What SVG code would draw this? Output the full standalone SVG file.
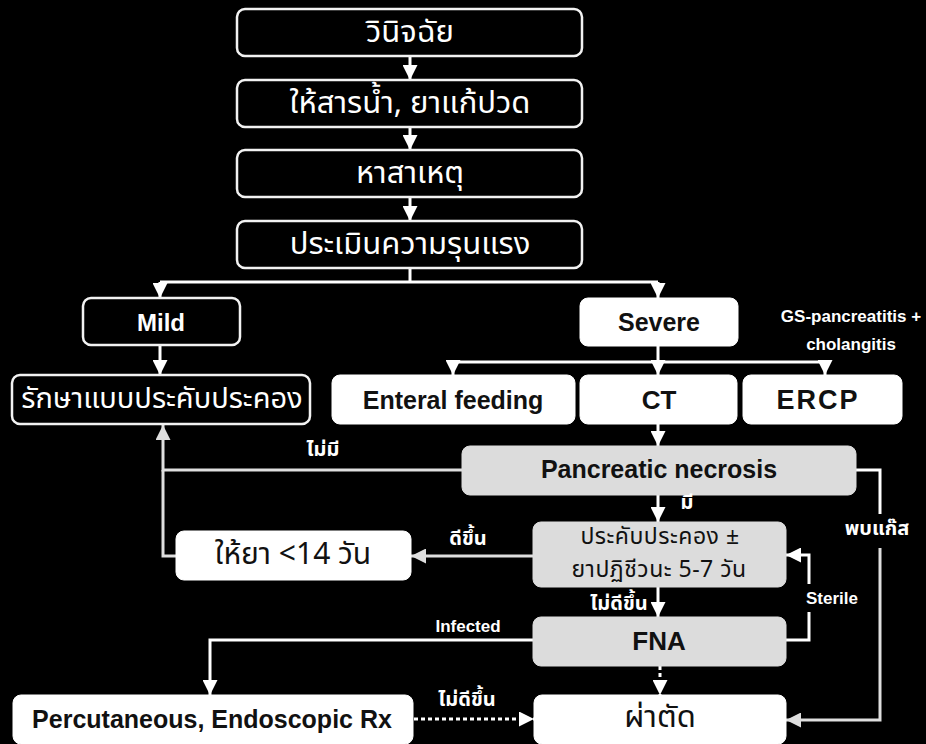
<svg xmlns="http://www.w3.org/2000/svg" width="926" height="744" viewBox="0 0 926 744">
<defs>
<style>
.bk{fill:#000;stroke:#f2f2f2;stroke-width:2.5}
.wh{fill:#fff;stroke:#fff;stroke-width:1}
.gr{fill:#dcdcdc;stroke:#dcdcdc;stroke-width:1}
.th{font-family:"Noto Sans Thai","Noto Sans Thai Looped","Noto Sans",sans-serif;text-anchor:middle;dominant-baseline:central}
.lb{font-weight:bold;font-size:20px}
.en{font-family:"Liberation Sans",Arial,sans-serif;font-weight:bold;text-anchor:middle;dominant-baseline:central}
.tw{fill:#fff}
.tb{fill:#111}
.ln{fill:none;stroke:#fff;stroke-width:3}
.lg{fill:none;stroke:#dedede;stroke-width:3}
.dt{fill:none;stroke:#fff;stroke-width:3;stroke-dasharray:4 3}
</style>
<marker id="ah" viewBox="0 0 10 10" refX="10" refY="5" markerWidth="5" markerHeight="5" orient="auto" markerUnits="strokeWidth">
<path d="M0,0 L10,5 L0,10 z" fill="#fff"/>
</marker>
<marker id="ahg" viewBox="0 0 10 10" refX="10" refY="5" markerWidth="5" markerHeight="5" orient="auto" markerUnits="strokeWidth">
<path d="M0,0 L10,5 L0,10 z" fill="#dedede"/>
</marker>
</defs>
<rect x="0" y="0" width="926" height="744" fill="#000"/>

<g id="connectors">
<path class="ln" d="M410,56 V80" marker-end="url(#ah)"/>
<path class="ln" d="M410,127 V150" marker-end="url(#ah)"/>
<path class="ln" d="M410,197 V221" marker-end="url(#ah)"/>
<path class="ln" d="M410,268 V282"/>
<path class="ln" d="M160,282 H658"/>
<path class="ln" d="M160,282 V298" marker-end="url(#ah)"/>
<path class="ln" d="M658,282 V298" marker-end="url(#ah)"/>
<path class="ln" d="M160,345 V375" marker-end="url(#ah)"/>
<path class="ln" d="M658,346 V362"/>
<path class="ln" d="M453,362 H825"/>
<path class="ln" d="M453,362 V375" marker-end="url(#ah)"/>
<path class="ln" d="M658,362 V375" marker-end="url(#ah)"/>
<path class="ln" d="M825,362 V375" marker-end="url(#ah)"/>
<path class="ln" d="M658,424 V446" marker-end="url(#ah)"/>
<path class="lg" d="M462,470 H163 V425" marker-end="url(#ahg)"/>
<path class="lg" d="M176,556 H163 V470"/>
<path class="lg" d="M533,556 H411" marker-end="url(#ahg)"/>
<path class="ln" d="M658,495 V522" marker-end="url(#ah)"/>
<path class="ln" d="M658,587 V617" marker-end="url(#ah)"/>
<path class="ln" d="M786,640 H809 V612"/>
<path class="ln" d="M809,584 V555 H786" marker-end="url(#ah)"/>
<path class="ln" d="M856,470 H880 V514"/>
<path class="lg" d="M880,548 V720 H786" marker-end="url(#ahg)"/>
<path class="ln" d="M533,640 H210 V695" marker-end="url(#ah)"/>
<path class="dt" d="M414,719 H534" marker-end="url(#ah)"/>
<path class="dt" d="M660,666 V695" marker-end="url(#ah)"/>
</g>

<g id="n-diagnose"><rect class="bk" x="237" y="9" width="345" height="47" rx="8"/><text class="th tw" x="410" y="32" font-size="31">วินิจฉัย</text></g>
<g id="n-fluid"><rect class="bk" x="237" y="80" width="345" height="47" rx="8"/><text class="th tw" x="410" y="103" font-size="31">ให้สารน้ำ, ยาแก้ปวด</text></g>
<g id="n-cause"><rect class="bk" x="237" y="150" width="345" height="47" rx="8"/><text class="th tw" x="410" y="173" font-size="31">หาสาเหตุ</text></g>
<g id="n-severity"><rect class="bk" x="237" y="221" width="345" height="47" rx="8"/><text class="th tw" x="410" y="244" font-size="31">ประเมินความรุนแรง</text></g>

<g id="n-mild"><rect class="bk" x="83" y="298" width="157" height="47" rx="8"/><text class="en tw" x="161" y="322" font-size="24">Mild</text></g>
<g id="n-severe"><rect class="wh" x="580" y="298" width="158" height="48" rx="8"/><text class="en tb" x="659" y="322" font-size="25">Severe</text></g>
<g id="n-gs"><text class="en tw" x="851" y="316" font-size="17">GS-pancreatitis +</text><text class="en tw" x="851" y="344" font-size="17">cholangitis</text></g>

<g id="n-supportive"><rect class="bk" x="12" y="375" width="298" height="49" rx="8"/><text class="th tw" x="162" y="399" font-size="29">รักษาแบบประคับประคอง</text></g>
<g id="n-enteral"><rect class="wh" x="332" y="375" width="243" height="49" rx="8"/><text class="en tb" x="453" y="400" font-size="25">Enteral feeding</text></g>
<g id="n-ct"><rect class="wh" x="580" y="375" width="157" height="49" rx="8"/><text class="en tb" x="659" y="400" font-size="26">CT</text></g>
<g id="n-ercp"><rect class="wh" x="743" y="375" width="159" height="49" rx="8"/><text class="en tb" x="818" y="400" font-size="27" letter-spacing="2">ERCP</text></g>

<g id="n-necrosis"><rect class="gr" x="462" y="446" width="394" height="49" rx="8"/><text class="en tb" x="659" y="469" font-size="25">Pancreatic necrosis</text></g>
<g id="n-conservative"><rect class="gr" x="533" y="522" width="253" height="65" rx="8"/><text class="th tb" x="660" y="537" font-size="23" letter-spacing="0.5">ประคับประคอง ±</text><text class="th tb" x="659" y="570" font-size="23" letter-spacing="0.5">ยาปฏิชีวนะ 5-7 วัน</text></g>
<g id="n-drug"><rect class="wh" x="176" y="531" width="235" height="49" rx="8"/><text class="th tb" x="293" y="555" font-size="30">ให้ยา &lt;14 วัน</text></g>
<g id="n-fna"><rect class="gr" x="533" y="617" width="253" height="49" rx="8"/><text class="en tb" x="659" y="641" font-size="26">FNA</text></g>
<g id="n-perc"><rect class="wh" x="13" y="695" width="400" height="49" rx="8"/><text class="en tb" x="212" y="719" font-size="25">Percutaneous, Endoscopic Rx</text></g>
<g id="n-surgery"><rect class="wh" x="534" y="695" width="252" height="49" rx="8"/><text class="th tb" x="660" y="717" font-size="31">ผ่าตัด</text></g>

<g id="labels">
<text class="th tw lb" x="323" y="450">ไม่มี</text>
<text class="th tw lb" x="687" y="503">มี</text>
<text class="th tw lb" x="619" y="604" font-size="18">ไม่ดีขึ้น</text>
<text class="th tw lb" x="468" y="539">ดีขึ้น</text>
<text class="en tw" x="832" y="598" font-size="17">Sterile</text>
<text class="th tw lb" x="877" y="529" font-size="22">พบแก๊ส</text>
<text class="en tw" x="468" y="626" font-size="17">Infected</text>
<text class="th tw lb" x="467" y="700" font-size="22">ไม่ดีขึ้น</text>
</g>
</svg>
